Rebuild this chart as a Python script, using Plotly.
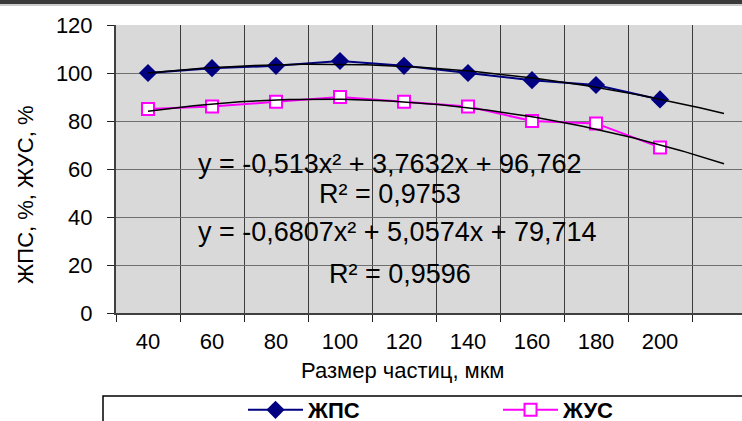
import numpy as np
import plotly.graph_objects as go

# ---- data ----
sizes = ["40", "60", "80", "100", "120", "140", "160", "180", "200"]
zhps = [100, 102, 103, 105, 103, 100, 97, 95, 89]
zhus = [85, 86, 88, 90, 88, 86, 80, 79, 69]
zhps_trend = [-0.513, 3.7632, 96.762]     # polynomial trend coefficients (x = point number)
zhus_trend = [-0.6807, 5.0574, 79.714]
zhps_eq = "y = -0,513x² + 3,7632x + 96,762"
zhps_r2 = "R² = 0,9753"
zhus_eq = "y = -0,6807x² + 5,0574x + 79,714"
zhus_r2 = "R² = 0,9596"
y_ticks = [0, 20, 40, 60, 80, 100, 120]
forecast = 1  # trend extended one period forward

# ---- geometry ----
W, H = 742, 421
L, R, T, B = 116, 0, 25, 108
pw, ph = W - L - R, H - T - B
cat_px = 64
x_idx = np.arange(1, len(sizes) + 1)
x_max = 0.5 + pw / cat_px


def px(xp):
    return (xp - L) / pw


def py(yp):
    return (H - B - yp) / ph


FONT = "Liberation Sans, Arial, sans-serif"

fig = go.Figure()
fig.add_trace(go.Scatter(
    x=x_idx, y=zhps, name="ЖПС", mode="lines+markers",
    line=dict(color="#000080", width=2),
    marker=dict(symbol="diamond", size=14, color="#000080"),
))
fig.add_trace(go.Scatter(
    x=x_idx, y=zhus, name="ЖУС", mode="lines+markers",
    line=dict(color="#FF00FF", width=2),
    marker=dict(symbol="square", size=12, color="white",
                line=dict(color="#FF00FF", width=2)),
))
xt = np.linspace(1, len(sizes) + forecast, 120)
for coef in (zhps_trend, zhus_trend):
    fig.add_trace(go.Scatter(
        x=xt, y=np.polyval(coef, xt), mode="lines", showlegend=False,
        line=dict(color="black", width=1.5), hoverinfo="skip",
    ))

tickpos = list(np.arange(0.5, len(sizes) + 1, 1.0))
fig.update_layout(
    width=W, height=H,
    margin=dict(l=L, r=R, t=T, b=B),
    paper_bgcolor="white", plot_bgcolor="#D9D9D9",
    font=dict(family=FONT, color="black", size=22),
    xaxis=dict(
        range=[0.5, x_max], tickvals=tickpos,
        ticktext=sizes + [""] * (len(tickpos) - len(sizes)),
        ticklabelshift=int(cat_px // 2), ticklabelstandoff=1,
        ticks="outside", ticklen=7, tickcolor="#222", tickwidth=1,
        showgrid=True, gridcolor="#3c3c3c", gridwidth=1,
        showline=True, linecolor="#404040", linewidth=2,
        zeroline=False, tickfont=dict(size=22), automargin=False,
    ),
    yaxis=dict(
        range=[0, 120], tickvals=y_ticks,
        ticks="outside", ticklen=7, tickcolor="#222", tickwidth=1,
        ticklabelstandoff=10,
        showgrid=True, gridcolor="#6e6e6e", gridwidth=1,
        showline=True, linecolor="#404040", linewidth=2,
        zeroline=False, tickfont=dict(size=22), automargin=False,
    ),
    showlegend=True,
    legend=dict(
        orientation="h", xref="container", yref="container",
        x=243 / W, y=1 - 389 / H, xanchor="left", yanchor="top",
        font=dict(size=22, family=FONT, weight="bold"),
        entrywidth=185, itemwidth=55, bgcolor="rgba(0,0,0,0)", borderwidth=0,
    ),
)

ann = [
    (zhps_eq, 390, 164),
    (zhps_r2, 390, 194),
    (zhus_eq, 397, 232),
    (zhus_r2, 400, 274),
]
for text, xp_, yp_ in ann:
    fig.add_annotation(text=text, x=px(xp_), y=py(yp_), xref="paper", yref="paper",
                       showarrow=False, xanchor="center", yanchor="middle",
                       font=dict(size=27, family=FONT))

fig.add_annotation(text="Размер частиц, мкм", x=px(403), y=py(370), xref="paper", yref="paper",
                   showarrow=False, xanchor="center", yanchor="middle", font=dict(size=22))
fig.add_annotation(text="ЖПС, %, ЖУС, %", x=px(25), y=py(195), xref="paper", yref="paper",
                   showarrow=False, textangle=-90, xanchor="center", yanchor="middle",
                   font=dict(size=22))

# outer frame top border and legend box
fig.add_shape(type="rect", xref="paper", yref="paper", x0=px(-5), x1=px(750), y0=py(0), y1=py(4),
              fillcolor="#3a3a3a", line=dict(width=0))
fig.add_shape(type="line", xref="paper", yref="paper", x0=px(-5), x1=px(750), y0=py(5), y1=py(5),
              line=dict(color="#9a9a9a", width=1))
fig.add_shape(type="rect", xref="paper", yref="paper", x0=px(103), x1=px(760), y0=py(396), y1=py(440),
              line=dict(color="black", width=1.5), fillcolor="rgba(0,0,0,0)")

fig.write_html("out.html", config={"displayModeBar": False},
               post_script="document.body.style.margin='0px';")
